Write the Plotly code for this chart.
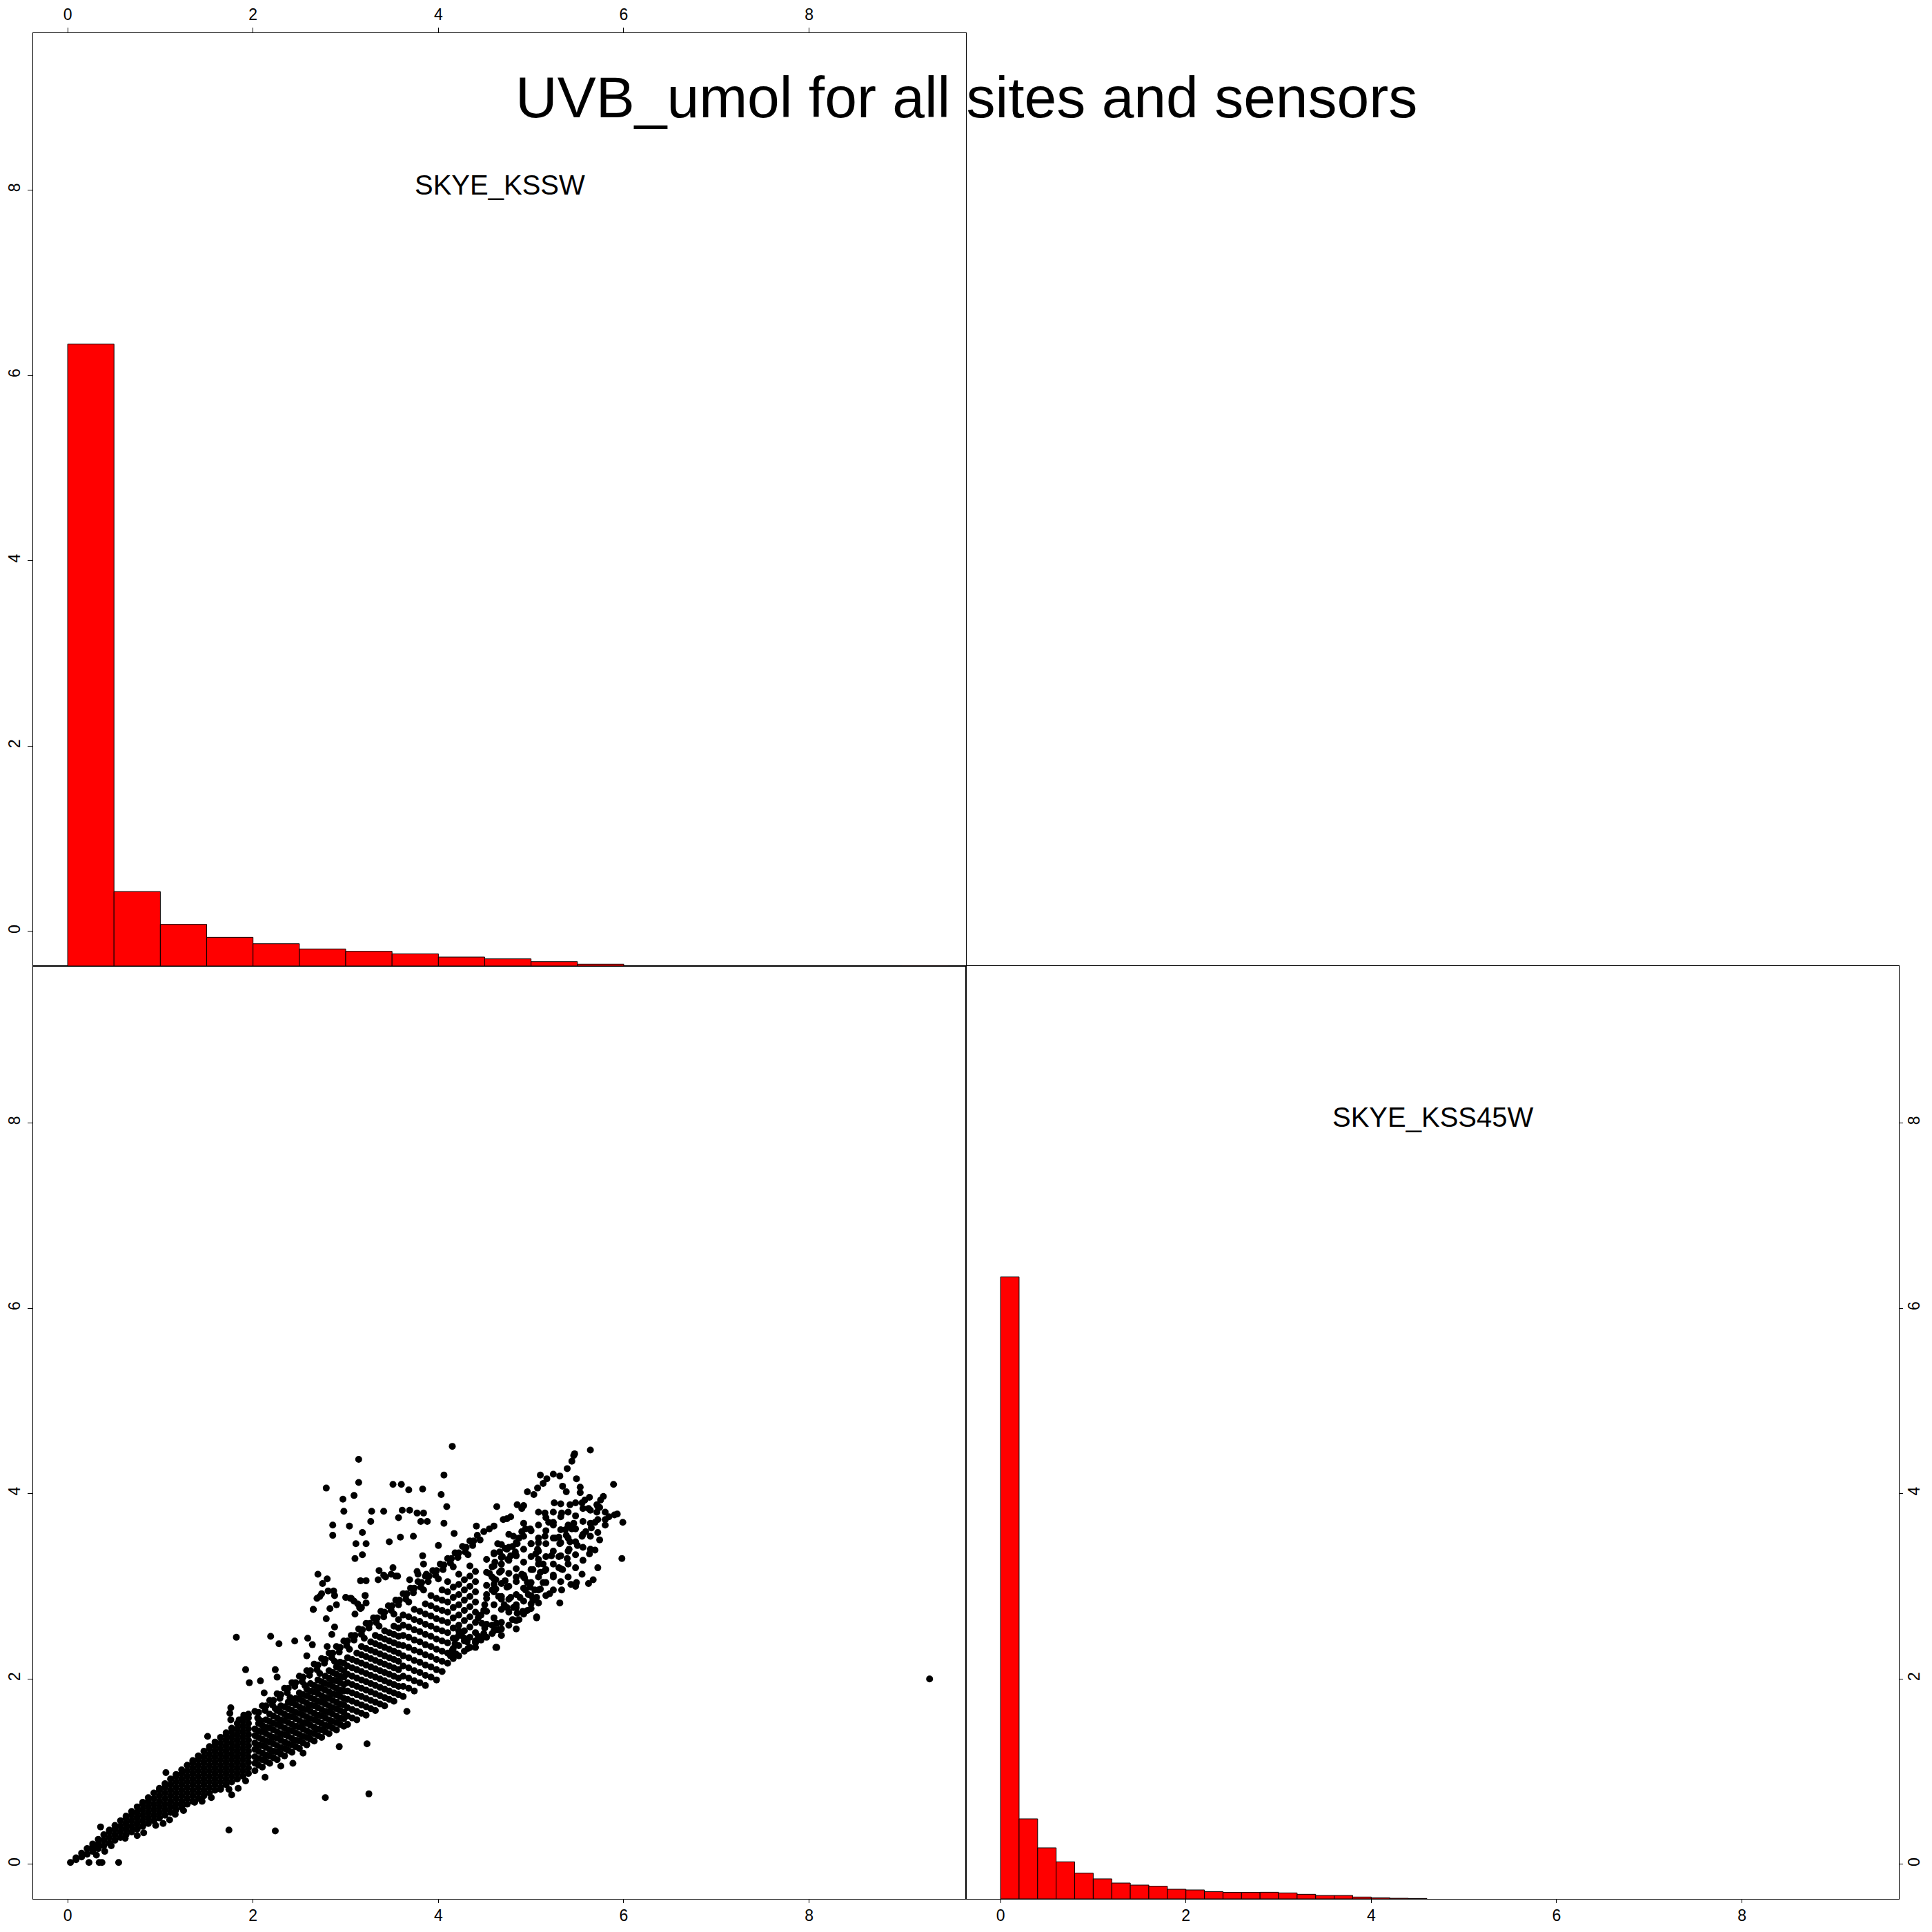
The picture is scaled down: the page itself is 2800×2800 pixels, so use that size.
import plotly.graph_objects as go

# ---------------- data ----------------
title_text = "UVB_umol for all sites and sensors"
var_names = ["SKYE_KSSW", "SKYE_KSS45W"]
axis_range = [-0.3728, 9.6928]
tick_vals = [0, 2, 4, 6, 8]
tick_text = ["0", "2", "4", "6", "8"]

# histogram of SKYE_KSSW (bin width 0.5), counts scaled to the largest bin
kssw_bin_left = [0.0, 0.5, 1.0, 1.5, 2.0, 2.5, 3.0, 3.5, 4.0, 4.5, 5.0, 5.5,
                 6.0, 6.5, 7.0, 7.5, 8.0, 8.5, 9.0]
kssw_hist_rel = [1.0, 0.1197, 0.0669, 0.0462, 0.0358, 0.0274, 0.0236, 0.0196,
                 0.0144, 0.0115, 0.0070, 0.0030, 0.0, 0.0, 0.0, 0.0, 0.0, 0.0, 0.0002]
kssw_bin_width = 0.5

# histogram of SKYE_KSS45W (bin width 0.2), counts scaled to the largest bin
kss45w_bin_left = [0.0, 0.2, 0.4, 0.6, 0.8, 1.0, 1.2, 1.4, 1.6, 1.8, 2.0, 2.2,
                   2.4, 2.6, 2.8, 3.0, 3.2, 3.4, 3.6, 3.8, 4.0, 4.2, 4.4]
kss45w_hist_rel = [1.0, 0.1287, 0.0821, 0.0596, 0.0414, 0.0322, 0.0255, 0.0222,
                   0.0203, 0.0155, 0.0144, 0.0118, 0.0104, 0.0104, 0.0107, 0.0096,
                   0.0074, 0.0055, 0.0055, 0.0030, 0.0018, 0.0010, 0.0007]
kss45w_bin_width = 0.2

# scatter SKYE_KSSW (x) vs SKYE_KSS45W (y)
# dense core: (x, y1, y2, ...)
core_columns = [
    (0.03, 0.02),
    (0.09, 0.05, 0.07),
    (0.15, 0.08, 0.12),
    (0.21, 0.11, 0.17),
    (0.27, 0.14, 0.19, 0.22),
    (0.33, 0.17, 0.22, 0.27),
    (0.39, 0.20, 0.26, 0.32),
    (0.45, 0.23, 0.29, 0.35, 0.37),
    (0.51, 0.26, 0.32, 0.38, 0.42),
    (0.57, 0.29, 0.35, 0.41, 0.47),
    (0.63, 0.32, 0.38, 0.44, 0.50, 0.52),
    (0.69, 0.35, 0.41, 0.47, 0.53, 0.57),
    (0.75, 0.38, 0.44, 0.50, 0.56, 0.62),
    (0.81, 0.41, 0.47, 0.53, 0.59, 0.65, 0.67),
    (0.87, 0.44, 0.50, 0.56, 0.62, 0.68, 0.72),
    (0.93, 0.47, 0.53, 0.59, 0.65, 0.71, 0.77),
    (0.99, 0.50, 0.56, 0.62, 0.68, 0.74, 0.80, 0.82),
    (1.05, 0.53, 0.59, 0.65, 0.71, 0.77, 0.83, 0.87),
    (1.11, 0.56, 0.62, 0.68, 0.74, 0.80, 0.86, 0.92),
    (1.17, 0.59, 0.65, 0.71, 0.77, 0.83, 0.89, 0.95, 0.97),
    (1.23, 0.62, 0.68, 0.74, 0.80, 0.86, 0.92, 0.98, 1.02),
    (1.29, 0.65, 0.71, 0.77, 0.83, 0.89, 0.95, 1.01, 1.07),
    (1.35, 0.68, 0.74, 0.80, 0.86, 0.92, 0.98, 1.04, 1.10, 1.12),
    (1.41, 0.71, 0.77, 0.83, 0.89, 0.95, 1.01, 1.07, 1.13, 1.17),
    (1.47, 0.74, 0.80, 0.86, 0.92, 0.98, 1.04, 1.10, 1.16, 1.22),
    (1.53, 0.77, 0.83, 0.89, 0.95, 1.01, 1.07, 1.13, 1.19, 1.25, 1.27),
    (1.59, 0.80, 0.86, 0.92, 0.98, 1.04, 1.10, 1.16, 1.22, 1.28, 1.32),
    (1.65, 0.83, 0.89, 0.95, 1.01, 1.07, 1.13, 1.19, 1.25, 1.31, 1.37),
    (1.71, 0.86, 0.92, 0.98, 1.04, 1.10, 1.16, 1.22, 1.28, 1.34, 1.40, 1.42),
    (1.77, 0.89, 0.95, 1.01, 1.07, 1.13, 1.19, 1.25, 1.31, 1.37, 1.43, 1.47),
    (1.83, 0.92, 0.98, 1.04, 1.10, 1.16, 1.22, 1.28, 1.34, 1.40, 1.46, 1.52),
    (1.89, 0.95, 1.01, 1.07, 1.13, 1.19, 1.25, 1.31, 1.37, 1.43, 1.49, 1.55, 1.57),
    (1.95, 0.98, 1.04, 1.10, 1.16, 1.22, 1.28, 1.34, 1.40, 1.46, 1.52, 1.58, 1.62),
]

# lower, wider cloud: (x, y1, y2, ...)
cloud_columns = [
    (2.02, 1.01, 1.09, 1.16, 1.24, 1.31, 1.39, 1.46),
    (2.06, 1.07, 1.14, 1.22, 1.29, 1.37, 1.44, 1.52),
    (2.10, 1.05, 1.13, 1.20, 1.28, 1.35, 1.43, 1.50),
    (2.14, 1.11, 1.18, 1.26, 1.33, 1.41, 1.48, 1.56),
    (2.18, 1.09, 1.17, 1.24, 1.32, 1.39, 1.47, 1.54, 1.62),
    (2.22, 1.15, 1.22, 1.30, 1.37, 1.45, 1.52, 1.60),
    (2.26, 1.13, 1.21, 1.28, 1.36, 1.43, 1.51, 1.58, 1.66),
    (2.30, 1.19, 1.26, 1.34, 1.41, 1.49, 1.56, 1.64, 1.71),
    (2.34, 1.17, 1.25, 1.32, 1.40, 1.47, 1.55, 1.62, 1.70),
    (2.38, 1.23, 1.30, 1.38, 1.45, 1.53, 1.60, 1.68, 1.75),
    (2.42, 1.21, 1.29, 1.36, 1.44, 1.51, 1.59, 1.66, 1.74),
    (2.46, 1.27, 1.34, 1.42, 1.49, 1.57, 1.64, 1.72, 1.79),
    (2.50, 1.25, 1.33, 1.40, 1.48, 1.55, 1.63, 1.70, 1.78, 1.85),
    (2.54, 1.31, 1.38, 1.46, 1.53, 1.61, 1.68, 1.76, 1.83),
    (2.58, 1.29, 1.37, 1.44, 1.52, 1.59, 1.67, 1.74, 1.82, 1.89),
    (2.62, 1.35, 1.42, 1.50, 1.57, 1.65, 1.72, 1.80, 1.87, 1.95),
    (2.66, 1.33, 1.41, 1.48, 1.56, 1.63, 1.71, 1.78, 1.86, 1.93),
    (2.70, 1.39, 1.46, 1.54, 1.61, 1.69, 1.76, 1.84, 1.91, 1.99),
    (2.74, 1.37, 1.45, 1.52, 1.60, 1.67, 1.75, 1.82, 1.90, 1.97),
    (2.78, 1.43, 1.50, 1.58, 1.65, 1.73, 1.80, 1.88, 1.95, 2.03),
    (2.82, 1.41, 1.49, 1.56, 1.64, 1.71, 1.79, 1.86, 1.94, 2.01, 2.09),
    (2.86, 1.47, 1.54, 1.62, 1.69, 1.77, 1.84, 1.92, 1.99, 2.07),
    (2.90, 1.45, 1.53, 1.60, 1.68, 1.75, 1.83, 1.90, 1.98, 2.05, 2.13),
    (2.94, 1.51, 1.58, 1.66, 1.73, 1.81, 1.88, 1.96, 2.03, 2.11, 2.18),
    (2.98, 1.49, 1.57, 1.64, 1.72, 1.79, 1.87, 1.94, 2.02, 2.09, 2.17),
    (3.02, 1.51, 1.60, 1.69, 1.78, 1.87, 1.96, 2.05, 2.14, 2.23),
    (3.07, 1.58, 1.67, 1.76, 1.85, 1.94, 2.03, 2.12, 2.21),
    (3.12, 1.56, 1.65, 1.74, 1.83, 1.92, 2.01, 2.10, 2.19, 2.28),
    (3.17, 1.63, 1.72, 1.81, 1.90, 1.99, 2.08, 2.17, 2.26, 2.35),
    (3.22, 1.61, 1.70, 1.79, 1.88, 1.97, 2.06, 2.15, 2.24, 2.33),
    (3.27, 1.68, 1.77, 1.86, 1.95, 2.04, 2.13, 2.22, 2.31, 2.40),
    (3.32, 1.66, 1.75, 1.84, 1.93, 2.02, 2.11, 2.20, 2.29, 2.38, 2.47),
    (3.37, 1.73, 1.82, 1.91, 2.00, 2.09, 2.18, 2.27, 2.36, 2.45),
    (3.42, 1.71, 1.80, 1.89, 1.98, 2.07, 2.16, 2.25, 2.34, 2.43, 2.52),
    (3.47, 1.78, 1.87, 1.96, 2.05, 2.14, 2.23, 2.32, 2.41, 2.50),
    (3.52, 1.76, 1.85, 1.94, 2.03, 2.12, 2.21, 2.30, 2.39, 2.48, 2.57),
    (3.57, 1.83, 1.92, 2.01, 2.10, 2.19, 2.28, 2.37, 2.46, 2.55, 2.64),
    (3.62, 1.81, 1.92, 2.03, 2.14, 2.25, 2.36, 2.47, 2.58, 2.69),
    (3.68, 1.90, 2.01, 2.12, 2.23, 2.34, 2.45, 2.56, 2.67),
    (3.74, 1.87, 1.98, 2.09, 2.20, 2.31, 2.42, 2.53, 2.64, 2.75),
    (3.80, 1.96, 2.07, 2.18, 2.29, 2.40, 2.51, 2.62, 2.73),
    (3.86, 1.93, 2.04, 2.15, 2.26, 2.37, 2.48, 2.59, 2.70, 2.81),
    (3.92, 2.02, 2.13, 2.24, 2.35, 2.46, 2.57, 2.68, 2.79, 2.90),
    (3.98, 1.99, 2.10, 2.21, 2.32, 2.43, 2.54, 2.65, 2.76, 2.87),
    (4.04, 2.08, 2.19, 2.30, 2.41, 2.52, 2.63, 2.74, 2.85, 2.96),
    (4.10, 2.17, 2.28, 2.39, 2.50, 2.61, 2.72, 2.83, 2.94, 3.05),
    (4.16, 2.22, 2.33, 2.44, 2.55, 2.66, 2.77, 2.88, 2.99),
    (4.22, 2.25, 2.36, 2.47, 2.58, 2.69, 2.80, 2.91, 3.02, 3.13),
    (4.28, 2.30, 2.41, 2.52, 2.63, 2.74, 2.85, 2.96, 3.07),
    (4.34, 2.34, 2.45, 2.56, 2.67, 2.78, 2.89, 3.00, 3.11, 3.22),
    (4.40, 2.39, 2.50, 2.61, 2.72, 2.83, 2.94, 3.05, 3.16),
    (4.52, 2.45, 2.59, 2.73, 2.87, 3.01, 3.15, 3.29),
    (4.60, 2.52, 2.66, 2.80, 2.94, 3.08, 3.22, 3.36),
    (4.68, 2.47, 2.61, 2.75, 2.89, 3.03, 3.17, 3.31, 3.45),
    (4.76, 2.58, 2.72, 2.86, 3.00, 3.14, 3.28, 3.42, 3.56),
    (4.84, 2.63, 2.77, 2.91, 3.05, 3.19, 3.33, 3.47),
    (4.92, 2.70, 2.84, 2.98, 3.12, 3.26, 3.40, 3.54, 3.68),
    (5.00, 2.76, 2.90, 3.04, 3.18, 3.32, 3.46, 3.60),
    (5.08, 2.82, 2.96, 3.10, 3.24, 3.38, 3.52, 3.66, 3.80),
    (5.16, 2.90, 3.04, 3.18, 3.32, 3.46, 3.60, 3.74),
    (5.24, 2.96, 3.10, 3.24, 3.38, 3.52, 3.66, 3.80),
    (5.32, 3.05, 3.19, 3.33, 3.47, 3.61, 3.75, 3.89),
    (5.40, 3.10, 3.24, 3.38, 3.52, 3.66, 3.80),
    (5.48, 3.20, 3.34, 3.48, 3.62, 3.76, 3.90),
    (5.56, 3.28, 3.42, 3.56, 3.70, 3.84),
    (5.64, 3.40, 3.54, 3.68, 3.82),
    (5.72, 3.58, 3.72, 3.86),
    (5.80, 3.66, 3.80),
]

# upper (narrow) band
band_points = [
    (2.02, 1.65), (2.05, 1.58), (2.10, 1.71), (2.13, 1.66), (2.18, 1.77), (2.21, 1.72),
    (2.26, 1.84), (2.29, 1.79), (2.34, 1.90), (2.37, 1.85), (2.42, 1.96), (2.45, 1.92),
    (2.50, 2.03), (2.53, 1.97), (2.58, 2.09), (2.61, 2.04), (2.66, 2.16), (2.69, 2.10),
    (2.74, 2.22), (2.77, 2.17), (2.82, 2.28), (2.85, 2.23), (2.90, 2.35), (2.93, 2.29),
    (2.98, 2.41), (3.01, 2.36), (3.06, 2.47), (3.09, 2.42), (3.14, 2.54), (3.17, 2.48),
    (3.22, 2.60), (3.25, 2.55), (3.30, 2.66), (3.33, 2.61), (3.38, 2.73), (3.41, 2.67),
    (3.46, 2.79), (3.49, 2.74), (3.54, 2.85), (3.57, 2.80), (3.62, 2.92), (3.65, 2.86),
    (3.70, 2.98), (3.73, 2.93), (3.78, 3.05), (3.81, 2.99), (3.86, 3.11), (3.89, 3.05),
    (3.94, 3.17), (3.97, 3.12), (4.02, 3.24), (4.05, 3.18), (4.10, 3.30), (4.13, 3.25),
    (4.18, 3.36), (4.21, 3.31), (4.26, 3.43), (4.29, 3.37), (4.34, 3.49), (4.37, 3.44),
    (4.42, 3.55), (4.45, 3.50), (4.49, 3.59), (4.55, 3.62), (4.60, 3.65), (4.41, 3.65),
    (2.06, 1.64), (2.14, 1.71), (2.22, 1.77), (2.30, 1.83), (2.38, 1.90), (2.46, 1.96),
    (2.54, 2.02), (2.62, 2.09), (2.70, 2.15), (2.78, 2.21), (2.86, 2.28), (2.94, 2.34),
    (3.02, 2.41), (3.10, 2.47), (3.18, 2.53), (3.26, 2.60), (3.34, 2.66), (3.42, 2.72),
    (3.50, 2.79), (3.58, 2.85), (3.66, 2.92), (3.74, 2.98), (3.82, 3.04), (3.90, 3.11),
    (3.98, 3.17), (4.06, 3.23), (4.14, 3.30), (4.22, 3.36), (4.30, 3.42), (4.38, 3.49),
    (2.08, 1.55), (2.24, 1.68), (2.40, 1.80), (2.56, 1.93), (2.72, 2.06), (2.88, 2.19),
    (3.04, 2.32), (3.20, 2.44), (3.36, 2.57), (3.52, 2.70), (3.68, 2.83), (3.84, 2.96),
    (4.00, 3.08), (4.16, 3.21), (4.32, 3.34),
    (4.63, 3.86), (4.74, 3.73), (4.78, 3.75), (4.90, 3.84), (4.92, 3.87), (4.96, 4.02),
    (5.03, 3.99), (5.07, 4.06), (5.13, 4.11), (5.10, 4.20), (5.17, 4.16), (5.24, 4.21),
    (5.31, 4.19), (5.34, 4.08), (5.38, 4.02), (5.49, 4.16), (5.53, 4.07), (5.53, 4.01),
    (5.46, 4.41), (5.39, 4.27), (5.47, 4.43), (5.44, 4.35), (4.70, 3.72), (4.85, 3.88),
]

# individually read points in the outer part of the lower cloud
cloud_points = [
    (4.13, 2.25), (4.15, 2.31), (4.19, 2.27), (4.18, 2.38), (4.19, 2.44), (4.22, 2.52), (4.25, 2.47),
    (4.28, 2.44), (4.31, 2.40), (4.32, 2.33), (4.40, 2.34), (4.40, 2.41), (4.46, 2.42), (4.43, 2.46),
    (4.47, 2.44), (4.49, 2.49), (4.50, 2.55), (4.63, 2.34), (4.68, 2.54), (4.65, 2.53), (4.62, 2.53),
    (4.58, 2.49), (4.63, 2.60), (4.58, 2.58), (4.47, 2.60), (4.43, 2.66), (4.46, 2.69), (4.49, 2.74),
    (4.50, 2.80), (4.52, 2.91), (4.58, 2.96), (4.60, 3.02), (4.62, 2.97), (4.65, 2.89), (4.68, 2.86),
    (4.71, 2.80), (4.74, 2.77), (4.80, 2.64), (5.06, 2.66), (5.06, 2.88), (5.02, 2.85), (5.00, 2.81),
    (4.96, 2.74), (4.91, 2.73), (4.87, 2.64), (4.85, 2.71), (4.81, 2.77), (4.84, 2.80), (4.88, 2.88),
    (4.97, 2.91), (4.94, 2.96), (4.99, 2.99), (4.96, 3.04), (4.93, 3.09), (4.90, 3.13), (4.84, 3.10),
    (4.78, 2.88), (4.74, 2.99), (4.72, 3.06), (4.66, 3.15), (4.62, 3.07), (4.58, 3.10), (4.55, 3.14),
    (4.58, 3.21), (4.61, 3.26), (4.60, 3.35), (4.64, 3.46), (4.66, 3.37), (4.68, 3.24), (4.69, 3.32),
    (4.72, 3.41), (4.74, 3.40), (4.75, 3.29), (4.78, 3.33), (4.80, 3.43), (4.81, 3.54), (4.83, 3.37),
    (4.85, 3.46), (4.87, 3.52), (4.90, 3.59), (4.94, 3.62), (4.99, 3.62), (5.00, 3.46),
    (5.10, 2.97), (5.13, 3.04), (5.10, 3.15), (5.15, 3.17), (5.13, 3.24), (5.08, 3.29), (5.05, 3.35),
    (5.07, 3.40), (5.08, 3.47), (5.15, 3.54), (5.19, 3.69), (5.24, 3.69), (5.30, 3.20), (5.30, 3.32),
    (5.31, 3.46), (5.30, 3.53), (5.39, 3.30), (5.41, 3.40), (5.38, 3.55), (5.37, 3.61), (5.44, 3.62),
    (5.50, 3.44), (5.55, 3.54), (5.59, 3.59), (5.65, 3.63), (5.69, 3.69), (5.71, 3.80), (5.80, 3.72),
    (5.84, 3.75), (5.90, 3.77), (5.93, 3.78), (5.99, 3.69), (5.98, 3.30), (5.72, 3.20), (5.74, 3.50),
    (5.69, 3.39), (5.63, 3.35), (5.67, 3.07), (5.55, 3.13), (5.49, 3.04), (5.43, 3.02), (5.31, 2.82),
    (5.15, 3.79), (5.25, 3.90), (5.33, 3.79), (5.42, 3.88), (5.55, 3.90), (5.62, 3.84), (5.58, 3.93),
    (5.63, 3.96), (5.71, 3.88), (5.74, 3.85), (5.75, 3.93), (5.78, 3.97), (5.62, 3.03), (5.48, 3.00),
    (5.33, 2.96), (5.06, 2.67), (4.84, 2.54), (4.62, 2.34), (5.20, 2.92), (5.24, 3.12), (5.22, 3.33),
    (5.34, 3.18), (5.42, 3.48), (5.46, 3.68), (5.26, 3.52), (5.04, 2.96), (5.02, 3.18), (4.92, 3.10),
]

# isolated points above and below the main cloud
outlier_points = [
    (4.15, 4.51), (5.64, 4.47), (3.14, 4.37), (4.06, 4.20), (3.14, 4.12), (2.79, 4.06),
    (3.51, 4.10), (3.60, 4.10), (3.68, 4.04), (3.83, 4.05), (4.03, 3.99), (5.89, 4.10),
    (2.97, 3.94), (3.09, 3.98), (2.98, 3.81), (3.28, 3.81), (3.41, 3.81), (3.61, 3.82),
    (3.69, 3.82), (3.77, 3.79), (3.84, 3.79), (4.09, 3.86), (2.86, 3.66), (2.86, 3.55),
    (3.04, 3.65), (3.18, 3.58), (3.27, 3.70), (3.57, 3.74), (3.81, 3.70), (3.88, 3.70),
    (4.06, 3.68), (4.17, 3.57), (3.11, 3.46), (3.22, 3.46), (3.47, 3.48), (3.59, 3.53),
    (3.73, 3.54), (4.00, 3.44), (3.10, 3.30), (3.18, 3.34), (3.36, 3.17), (3.41, 3.12),
    (3.51, 3.20), (3.54, 3.11), (3.77, 3.16), (3.84, 3.24), (3.83, 3.33), (2.70, 3.13),
    (2.80, 3.08), (2.75, 3.03), (2.87, 2.95), (2.72, 2.89), (2.65, 2.75), (3.00, 2.88),
    (3.05, 2.87), (3.13, 2.81), (3.16, 2.76), (1.82, 2.45), (2.19, 2.46), (2.28, 2.38),
    (2.45, 2.41), (2.59, 2.44), (1.92, 2.10), (2.24, 2.10), (2.08, 1.98), (1.96, 1.96),
    (2.64, 2.37), (2.26, 2.02), (2.12, 1.85), (1.76, 1.69), (1.75, 1.63), (1.76, 1.56),
    (1.85, 1.56), (1.90, 1.61), (1.51, 1.38), (1.06, 0.99), (0.355, 0.404), (2.58, 2.25),
    (2.80, 2.35), (2.88, 2.56), (2.85, 2.48), (2.79, 2.65), (2.83, 2.76), (2.65, 2.75),
    (2.69, 2.87), (2.74, 2.92), (2.81, 2.95), (2.88, 2.90), (3.06, 2.87), (3.09, 2.84),
    (3.21, 2.90), (3.22, 2.82), (3.10, 2.70), (3.17, 2.77), (2.90, 2.80), (3.43, 3.10),
    (3.49, 3.13), (3.56, 3.11), (3.35, 3.07), (3.22, 3.06), (3.16, 3.06), (3.21, 2.90),
    (3.15, 2.77), (3.69, 3.07), (3.78, 3.13), (3.87, 3.13),
    (3.66, 1.65), (2.93, 1.27), (3.23, 1.30), (3.25, 0.76), (2.78, 0.72), (1.74, 0.37),
    (2.24, 0.36), (0.55, 0.02), (0.34, 0.02), (0.37, 0.02), (0.23, 0.02), (0.31, 0.10),
    (0.40, 0.14), (0.47, 0.20), (0.75, 0.31), (0.82, 0.34), (1.03, 0.44), (1.10, 0.48),
    (1.16, 0.54), (1.37, 0.67), (1.45, 0.68), (1.65, 0.81), (1.74, 0.81), (1.77, 0.75),
    (1.84, 0.82), (2.13, 0.94), (2.43, 1.09), (2.54, 1.20), (0.62, 0.28), (0.95, 0.42),
    (1.25, 0.58), (1.55, 0.72), (1.92, 0.90), (2.30, 1.06),
    (9.30, 2.00),
]

# combine into the two variables
skye_kssw = []
skye_kss45w = []
for cols in (core_columns, cloud_columns):
    for col in cols:
        for yv in col[1:]:
            skye_kssw.append(col[0])
            skye_kss45w.append(yv)
for group in (band_points, cloud_points, outlier_points):
    for xv, yv in group:
        skye_kssw.append(xv)
        skye_kss45w.append(yv)

# ---------------- figure ----------------
W = H = 2800
L = 48 / W
M = 0.5
R = 1 - 48 / W
FONT = "Liberation Sans, Arial, Helvetica, sans-serif"

fig = go.Figure()

# empty traces so that the two diagonal panels get their visible axes
fig.add_trace(go.Scatter(x=[], y=[], xaxis="x", yaxis="y", showlegend=False, hoverinfo="skip"))
fig.add_trace(go.Scatter(x=[], y=[], xaxis="x4", yaxis="y4", showlegend=False, hoverinfo="skip"))

# histogram SKYE_KSSW on hidden axes (x5, y5) in the same box as the top-left panel
fig.add_trace(go.Bar(
    x=[b + kssw_bin_width / 2 for b in kssw_bin_left],
    y=kssw_hist_rel,
    width=[kssw_bin_width] * len(kssw_bin_left),
    marker=dict(color="#FF0000", line=dict(color="black", width=1)),
    xaxis="x5", yaxis="y5", showlegend=False, hoverinfo="skip",
))

fig.add_trace(go.Scatter(
    x=skye_kssw, y=skye_kss45w, mode="markers",
    marker=dict(color="black", size=10, line=dict(width=0)),
    xaxis="x3", yaxis="y3", showlegend=False, hoverinfo="skip",
))

fig.add_trace(go.Bar(
    x=[b + kss45w_bin_width / 2 for b in kss45w_bin_left],
    y=kss45w_hist_rel,
    width=[kss45w_bin_width] * len(kss45w_bin_left),
    marker=dict(color="#FF0000", line=dict(color="black", width=1)),
    xaxis="x6", yaxis="y6", showlegend=False, hoverinfo="skip",
))

tickfont = dict(family=FONT, size=23, color="black")
common = dict(range=axis_range, showgrid=False, zeroline=False, showline=True,
              mirror=True, linecolor="black", linewidth=1, ticks="outside",
              tickcolor="black", tickwidth=1, tickvals=tick_vals, ticktext=tick_text,
              tickfont=tickfont, fixedrange=True)
hidden = dict(visible=False, fixedrange=True, showgrid=False, zeroline=False)

fig.update_layout(
    width=W, height=H,
    margin=dict(l=0, r=0, t=0, b=0),
    paper_bgcolor="white", plot_bgcolor="rgba(0,0,0,0)",
    showlegend=False,
    barmode="overlay",
    xaxis=dict(domain=[L, M], anchor="y", side="top", ticklen=7, ticklabelstandoff=2, **common),
    yaxis=dict(domain=[M, R], anchor="x", side="left", ticklen=7, tickangle=-90,
               ticklabelstandoff=2, **common),
    xaxis3=dict(domain=[L, M], anchor="y3", side="bottom", ticklen=5,
                ticklabelstandoff=-2, **common),
    yaxis3=dict(domain=[L, M], anchor="x3", side="left", ticklen=7, tickangle=-90,
                ticklabelstandoff=2, **common),
    xaxis4=dict(domain=[M, R], anchor="y4", side="bottom", ticklen=5,
                ticklabelstandoff=-2, **common),
    yaxis4=dict(domain=[L, M], anchor="x4", side="right", ticklen=5, tickangle=-90,
                ticklabelstandoff=-4, **common),
    xaxis5=dict(domain=[L, M], anchor="y5", range=axis_range, **hidden),
    yaxis5=dict(domain=[M, R], anchor="x5", range=[0, 1.5], **hidden),
    xaxis6=dict(domain=[M, R], anchor="y6", range=axis_range, **hidden),
    yaxis6=dict(domain=[L, M], anchor="x6", range=[0, 1.5], **hidden),
    annotations=[
        dict(text=title_text, x=0.5, y=1 - 141 / H, xref="paper", yref="paper",
             xanchor="center", yanchor="middle", showarrow=False,
             font=dict(family=FONT, size=84, color="black")),
        dict(text=var_names[0], x=(L + M) / 2, y=1 - 268 / H, xref="paper", yref="paper",
             xanchor="center", yanchor="middle", showarrow=False,
             font=dict(family=FONT, size=40, color="black")),
        dict(text=var_names[1], x=(M + R) / 2, y=1 - 1619 / H, xref="paper", yref="paper",
             xanchor="center", yanchor="middle", showarrow=False,
             font=dict(family=FONT, size=40, color="black")),
    ],
)

fig.write_html("out.html", config={"displayModeBar": False},
               post_script="document.body.style.margin='0';")
